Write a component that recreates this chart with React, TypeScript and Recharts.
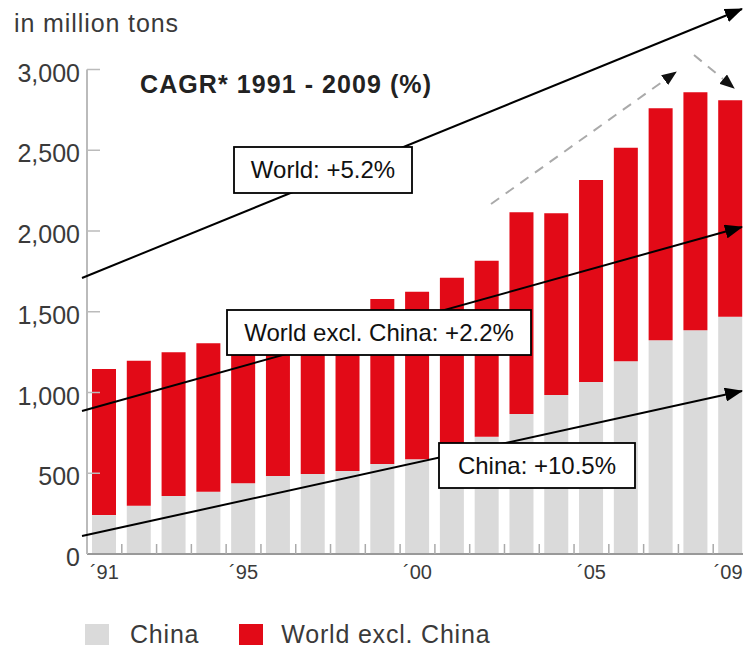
import { BarChart, Bar, XAxis, YAxis, Legend } from "recharts";

const years = ["1991", "1992", "1993", "1994", "1995", "1996", "1997", "1998", "1999", "2000",
  "2001", "2002", "2003", "2004", "2005", "2006", "2007", "2008", "2009"];
const yearLabels = ["´91", "", "", "", "´95", "", "", "", "", "´00", "", "", "", "", "´05", "", "", "", "´09"];
const china = [241, 299, 359, 386, 438, 483, 495, 514, 557, 586, 655, 726, 867, 984, 1065, 1193, 1323, 1385, 1469];
const worldExclChina = [905, 898, 890, 919, 927, 922, 955, 966, 1022, 1038, 1056, 1090, 1249, 1126, 1251, 1323, 1437, 1474, 1340];
const yTicks = [0, 500, 1000, 1500, 2000, 2500, 3000];

const data = years.map((y, i) => ({
  year: y,
  label: yearLabels[i],
  china: china[i],
  excl: worldExclChina[i],
}));

const RED = "#E20A17";
const GRAY = "#DADADA";
const FONT = "'Liberation Sans', Arial, Helvetica, sans-serif";
const TEXT = "#3a3a3a";

const CHART_W = 760;
const Y_AXIS_W = 87;
const RIGHT = 12;
const HALF_BAND = (CHART_W - Y_AXIS_W - RIGHT) / years.length / 2;

const XTick = ({ x, y, index }: any) => {
  const label = yearLabels[index];
  const last = index === yearLabels.length - 1;
  return (
    <g>
      {index > 0 && (
        <line x1={x - HALF_BAND} x2={x - HALF_BAND} y1={y} y2={y - 10} stroke="#aaa" strokeWidth={1.5} />
      )}
      {label && (
        <text
          x={last ? x + 12 : x}
          y={y + 25}
          textAnchor={last ? "end" : "middle"}
          fontSize={20}
          fontFamily={FONT}
          fill={TEXT}
        >
          {label}
        </text>
      )}
    </g>
  );
};

const YTick = ({ x, y, payload }: any) => (
  <g>
    {payload.value > 0 && <line x1={x} x2={x + 13} y1={y} y2={y} stroke="#bbb" strokeWidth={1.5} />}
    <text x={x - 7} y={y + 12} textAnchor="end" fontSize={25} fontFamily={FONT} fill={TEXT}>
      {payload.value.toLocaleString("en-US")}
    </text>
  </g>
);

const LegendContent = ({ payload }: any) => (
  <div style={{ display: "flex", alignItems: "center", fontFamily: FONT, fontSize: 25, letterSpacing: 0.8, color: TEXT }}>
    {(payload || []).map((p: any, i: number) => (
      <div key={i} style={{ display: "flex", alignItems: "center", marginRight: 40 }}>
        <span style={{ display: "inline-block", width: 24, height: 21, background: p.color, marginRight: i === 0 ? 21 : 18 }} />
        <span>{p.value}</span>
      </div>
    ))}
  </div>
);

// annotation overlay (pixel positions)
const arrows = [
  { x1: 82, y1: 278, x2: 742, y2: 9 },
  { x1: 82, y1: 411, x2: 742, y2: 227 },
  { x1: 82, y1: 536, x2: 742, y2: 391 },
];
const dashed = [
  { x1: 491, y1: 204, x2: 676, y2: 72 },
  { x1: 694, y1: 55, x2: 734, y2: 88 },
];
const boxes = [
  { x: 234, y: 147, w: 178, h: 46, text: "World: +5.2%" },
  { x: 227, y: 310, w: 304, h: 45, text: "World excl. China: +2.2%" },
  { x: 439, y: 443, w: 196, h: 45, text: "China: +10.5%" },
];

const Overlay = () => (
  <svg width={743} height={647} style={{ position: "absolute", left: 0, top: 0, pointerEvents: "none" }}>
    <defs>
      <marker id="ah" markerUnits="userSpaceOnUse" markerWidth={18} markerHeight={14} refX={17} refY={7} orient="auto">
        <path d="M0,0 L18,7 L0,14 z" fill="#000" />
      </marker>
      <marker id="ahs" markerUnits="userSpaceOnUse" markerWidth={15} markerHeight={12} refX={14} refY={6} orient="auto">
        <path d="M0,0 L15,6 L0,12 z" fill="#111" />
      </marker>
    </defs>
    <text x={14} y={32} fontSize={25} textLength={164} lengthAdjust="spacing" fontFamily={FONT} fill={TEXT}>
      in million tons
    </text>
    <text x={140} y={93} fontSize={25} textLength={291} lengthAdjust="spacing" fontWeight="bold" fontFamily={FONT} fill="#222">
      CAGR* 1991 - 2009 (%)
    </text>
    {dashed.map((d, i) => (
      <line key={i} {...d} stroke="#aaa" strokeWidth={2} strokeDasharray="10 8" markerEnd="url(#ahs)" />
    ))}
    {arrows.map((a, i) => (
      <line key={i} {...a} stroke="#000" strokeWidth={2} markerEnd="url(#ah)" />
    ))}
    {boxes.map((b, i) => (
      <g key={i}>
        <rect x={b.x} y={b.y} width={b.w} height={b.h} fill="#fff" stroke="#000" strokeWidth={1.8} />
        <text x={b.x + b.w / 2} y={b.y + b.h / 2 + 8} textAnchor="middle" fontSize={24} fontFamily={FONT} fill="#111">
          {b.text}
        </text>
      </g>
    ))}
  </svg>
);

export default function App() {
  return (
    <div style={{ position: "absolute", left: 0, top: 0, width: 743, height: 647, overflow: "hidden", background: "#fff" }}>
      <BarChart
        width={CHART_W}
        height={647}
        data={data}
        margin={{ top: 69.5, right: RIGHT, bottom: 53, left: 0 }}
        barSize={24}
      >
        <XAxis
          dataKey="year"
          height={40}
          interval={0}
          tickSize={0}
          tickMargin={0}
          tickLine={false}
          axisLine={{ stroke: "#999", strokeWidth: 2 }}
          tick={<XTick />}
        />
        <YAxis
          width={Y_AXIS_W}
          domain={[0, 3000]}
          ticks={yTicks}
          interval={0}
          tickSize={0}
          tickMargin={0}
          tickLine={false}
          axisLine={{ stroke: "#bbb", strokeWidth: 2 }}
          tick={<YTick />}
        />
        <Bar dataKey="china" name="China" stackId="s" fill={GRAY} isAnimationActive={false} />
        <Bar dataKey="excl" name="World excl. China" stackId="s" fill={RED} isAnimationActive={false} />
        <Legend
          layout="horizontal"
          verticalAlign="middle"
          align="center"
          wrapperStyle={{ top: 620, left: 85, width: "auto" }}
          content={<LegendContent />}
        />
      </BarChart>
      <Overlay />
    </div>
  );
}
